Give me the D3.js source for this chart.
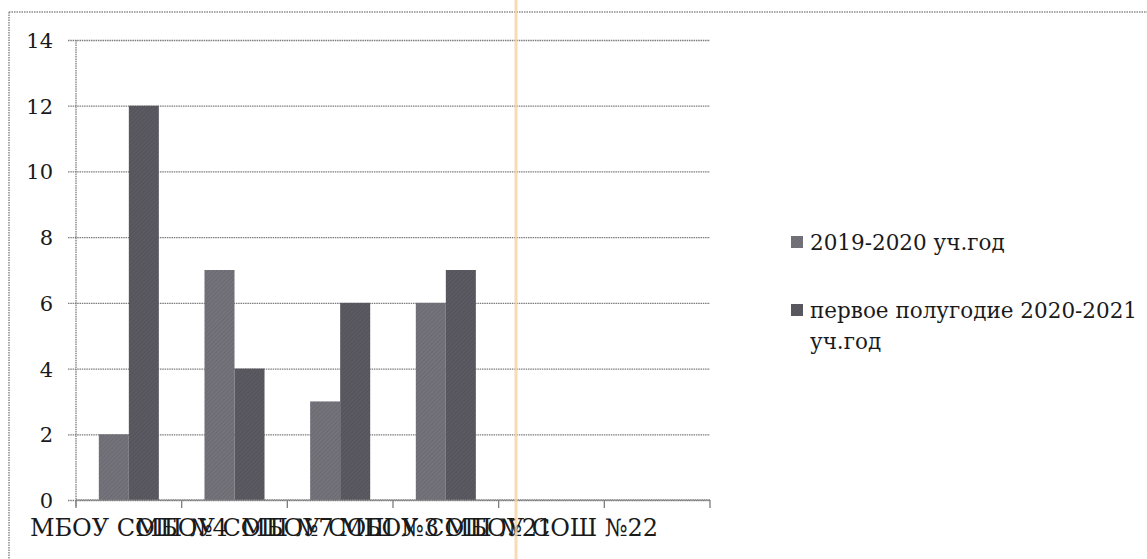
<!DOCTYPE html>
<html>
<head>
<meta charset="utf-8">
<script src="https://cdnjs.cloudflare.com/ajax/libs/d3/7.8.5/d3.min.js"></script>
<style>
  body { margin: 0; background: #fff; }
</style>
</head>
<body>
<div id="chart"></div>
<script>
// data
var categories = ["МБОУ СОШ №4", "МБОУ СОШ №7", "МБОУ СОШ №3", "МБОУ СОШ №21", "МБОУ СОШ №22", ""];
var seriesNames = ["2019-2020 уч.год", "первое полугодие 2020-2021 уч.год"];
var values2019 = [2, 7, 3, 6, null, null];
var values2020 = [12, 4, 6, 7, null, null];
var yTicks = [0, 2, 4, 6, 8, 10, 12, 14];
var seriesColors = ["#74737b", "#5b5a62"];

// only serif face available in the sandbox
var FONT = "DejaVu Serif, serif";
var W = 1147, H = 559;
var svg = d3.select("#chart").append("svg")
  .attr("width", W).attr("height", H);

// hatch patterns to look a bit like the scan halftone
var defs = svg.append("defs");
seriesColors.forEach(function(c, i) {
  var p = defs.append("pattern")
    .attr("id", "hatch" + i)
    .attr("patternUnits", "userSpaceOnUse")
    .attr("width", 3).attr("height", 3)
    .attr("patternTransform", "rotate(45)");
  p.append("rect").attr("width", 3).attr("height", 3).attr("fill", c);
  p.append("line").attr("x1", 0).attr("y1", 0).attr("x2", 0).attr("y2", 3)
    .attr("stroke", d3.color(c).darker(0.5)).attr("stroke-width", 1);
});

// outer chart frame (dotted, like the scan)
var frame = svg.append("g").attr("stroke", "#8a8a8a").attr("stroke-width", 1.5)
  .attr("stroke-dasharray", "1.5,1");
frame.append("line").attr("x1", 9).attr("y1", 12).attr("x2", W).attr("y2", 12);
frame.append("line").attr("x1", 9).attr("y1", 12).attr("x2", 9).attr("y2", H);

var plot = { left: 76, right: 710, top: 40, bottom: 500 };

var y = d3.scaleLinear().domain([0, 14]).range([plot.bottom, plot.top]);
var x0 = d3.scaleBand().domain(d3.range(categories.length))
  .range([plot.left, plot.right]).paddingInner(0).paddingOuter(0);
var x1 = d3.scaleBand().domain([0, 1]).range([0, x0.bandwidth()])
  .paddingInner(0).paddingOuter(0.76);

// gridlines with little left ticks
var grid = svg.append("g")
  .attr("transform", "translate(" + plot.left + ",0)")
  .call(d3.axisLeft(y).tickValues(yTicks).tickSize(-(plot.right - plot.left)).tickFormat(""));
grid.select(".domain").remove();
grid.selectAll(".tick line").attr("stroke", "#7d7d7d").attr("stroke-width", 1.3)
  .attr("stroke-dasharray", "1.5,0.8").attr("x1", -8);

// y labels
var yAxis = svg.append("g")
  .attr("transform", "translate(" + (plot.left - 23) + ",0)")
  .call(d3.axisLeft(y).tickValues(yTicks).tickSize(0).tickPadding(0));
yAxis.select(".domain").remove();
yAxis.attr("font-family", null);
yAxis.selectAll("text")
  .attr("font-family", FONT).attr("font-size", 21).attr("fill", "#1a1a1a")
  .attr("dy", "0.36em");

// bars
var rows = categories.map(function(c, i) { return [values2019[i], values2020[i]]; });
var groups = svg.append("g").selectAll("g").data(rows).enter().append("g")
  .attr("transform", function(d, i) { return "translate(" + x0(i) + ",0)"; });
groups.selectAll("rect")
  .data(function(d) { return d.map(function(v, s) { return { v: v, s: s }; }).filter(function(e) { return e.v != null; }); })
  .enter().append("rect")
  .attr("x", function(d) { return x1(d.s); })
  .attr("width", x1.bandwidth())
  .attr("y", function(d) { return y(d.v); })
  .attr("height", function(d) { return y(0) - y(d.v); })
  .attr("fill", function(d) { return "url(#hatch" + d.s + ")"; });

// y axis line
svg.append("line").attr("x1", plot.left).attr("x2", plot.left)
  .attr("y1", plot.top).attr("y2", plot.bottom + 6)
  .attr("stroke", "#7d7d7d").attr("stroke-width", 1.3).attr("stroke-dasharray", "1.5,0.8");

// x axis: ticks at category boundaries
var bounds = d3.range(categories.length + 1).map(function(i) {
  return i < categories.length ? x0(i) : x0(i - 1) + x0.bandwidth();
});
var xb = svg.append("g").attr("stroke", "#7d7d7d").attr("stroke-width", 1.3);
xb.append("line").attr("x1", plot.left).attr("x2", plot.right)
  .attr("y1", plot.bottom).attr("y2", plot.bottom).attr("stroke-dasharray", "1.5,0.8");
xb.selectAll(".tk").data(bounds).enter().append("line")
  .attr("x1", function(d) { return d; }).attr("x2", function(d) { return d; })
  .attr("y1", plot.bottom).attr("y2", plot.bottom + 8);

// category labels (overlapping, as in the original)
svg.append("g").selectAll("text").data(categories).enter().append("text")
  .attr("x", function(d, i) { return x0(i) + x0.bandwidth() / 2; })
  .attr("y", 536)
  .attr("text-anchor", "middle")
  .attr("font-family", FONT).attr("font-size", 24).attr("fill", "#1a1a1a")
  .text(function(d) { return d; });

// legend
var legend = svg.append("g");
var legendRows = [
  { y: 242, lines: ["2019-2020 уч.год"] },
  { y: 310, lines: ["первое полугодие 2020-2021", "уч.год"] }
];
legendRows.forEach(function(r, i) {
  legend.append("rect").attr("x", 791).attr("y", r.y - 6).attr("width", 12).attr("height", 12)
    .attr("fill", "url(#hatch" + i + ")");
  r.lines.forEach(function(t, k) {
    legend.append("text").attr("x", 810).attr("y", r.y + 8 + k * 31)
      .attr("font-family", FONT).attr("font-size", 21.5).attr("fill", "#1a1a1a")
      .text(t);
  });
});

// faint scan streak
svg.append("line").attr("x1", 516).attr("x2", 516).attr("y1", 0).attr("y2", H)
  .attr("stroke", "#f6d3a3").attr("stroke-width", 3).attr("opacity", 0.8);
</script>
</body>
</html>
